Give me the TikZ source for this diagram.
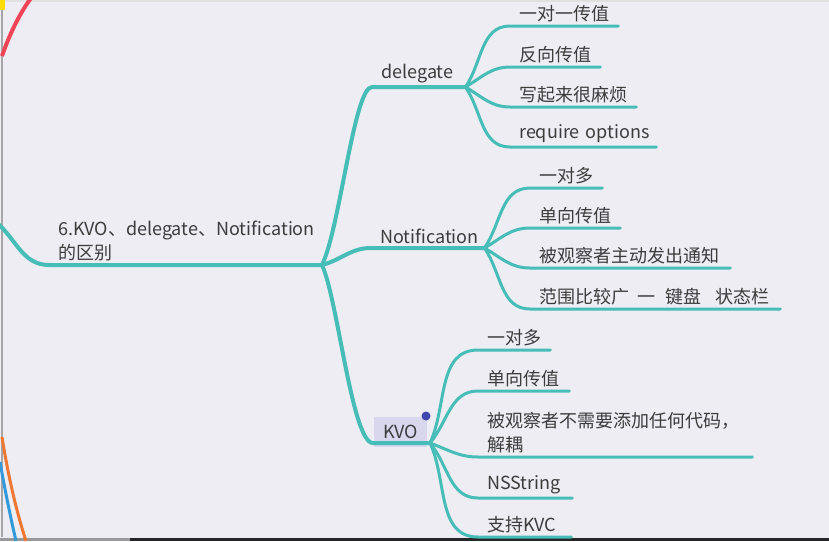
\documentclass[tikz,border=0pt]{standalone}
\usepackage{fontspec}
\setmainfont{Noto Sans CJK SC}
\definecolor{teal1}{HTML}{46BDB7}
\definecolor{bg}{HTML}{EEEDF3}
\definecolor{ink}{HTML}{3C3C3C}
\definecolor{kvobg}{HTML}{D8D7EE}
\definecolor{dotblue}{HTML}{4048B0}
\definecolor{redb}{HTML}{EE4455}
\definecolor{orangeb}{HTML}{EE7733}
\definecolor{blueb}{HTML}{3399DD}
\begin{document}
\begin{tikzpicture}[x=1pt,y=-1pt,
  br/.style={line width=4pt, draw=teal1, line cap=round},
  lf/.style={line width=3pt, draw=teal1, line cap=round},
  txt/.style={font=\fontsize{18}{24}\selectfont, text=ink, inner ysep=4pt, inner xsep=9pt, anchor=south west, align=left},
]
\useasboundingbox (0,0) rectangle (829,541);
\fill[bg] (0,0) rectangle (829,541);
% window frame
\fill[black!85] (130,538) rectangle (829,541);
\fill[black!40] (0,538) rectangle (130,541);
\draw[black!35, line width=2pt] (1.5,0) -- (1.5,537);
\draw[black!12, line width=1.5pt] (0,1) -- (829,1);
% partial other branches
\draw[redb, line width=4pt] (2,56) .. controls (9,36) and (18,16) .. (31,-2);
\fill[yellow!80!orange] (0,0) rectangle (5,10);
\draw[blueb, line width=3pt] (0,462) .. controls (5,490) and (10,515) .. (16,541);
\draw[orangeb, line width=3pt] (2,437) .. controls (8,475) and (16,510) .. (26,541);

% root
\node[txt, text width=255] (root) at (49,265) {6.KVO、delegate、Notification\\的区别};
\coordinate (rs) at (-4,222);
\coordinate (rj) at (322,265);
\draw[br] (rs) to[out=-40,in=180] (root.south west) -- (rj);

% delegate
\node[txt, text width=75] (del) at (372,87) {delegate};
\draw[br] (rj) .. controls (340,228) and (354,87) .. (del.south west) -- (del.south east);
\node[txt, text width=90] (d1) at (510,26) {一对一传值};
\node[txt, text width=72] (d2) at (510,67) {反向传值};
\node[txt, text width=108] (d3) at (510,107) {写起来很麻烦};
\node[txt, text width=128] (d4) at (510,147) {\mbox{require options}};
\draw[lf] (del.south east) to[out=55,in=180] (d1.south west) -- (d1.south east);
\draw[lf] (del.south east) to[out=30,in=180] (d2.south west) -- (d2.south east);
\draw[lf] (del.south east) to[out=-30,in=180] (d3.south west) -- (d3.south east);
\draw[lf] (del.south east) to[out=-55,in=180] (d4.south west) -- (d4.south east);

% notification
\node[txt, text width=95] (noti) at (371,248) {Notification};
\draw[br] (rj) to[out=15,in=180] (noti.south west) -- (noti.south east);
\node[txt, text width=54] (n1) at (530,188) {一对多};
\node[txt, text width=72] (n2) at (530,228) {单向传值};
\node[txt, text width=182] (n3) at (530,268) {被观察者主动发出通知};
\node[txt, text width=232] (n4) at (530,309) {\mbox{范围比较广\hspace{8pt}一\hspace{10pt}键盘\hspace{14pt}状态栏}};
\draw[lf] (noti.south east) to[out=55,in=180] (n1.south west) -- (n1.south east);
\draw[lf] (noti.south east) to[out=30,in=180] (n2.south west) -- (n2.south east);
\draw[lf] (noti.south east) to[out=-30,in=180] (n3.south west) -- (n3.south east);
\draw[lf] (noti.south east) to[out=-55,in=180] (n4.south west) -- (n4.south east);

% KVO
\node[font=\fontsize{18}{24}\selectfont, text=ink, fill=kvobg, anchor=south west, inner xsep=6pt, inner ysep=0pt, minimum height=30pt, minimum width=53pt] (kvo) at (374,447) {KVO};
\fill[dotblue] (426,416) circle (4.5);
\coordinate (kl) at (373,443);
\coordinate (kr) at (430,443);
\draw[br] (rj) .. controls (338,300) and (352,443) .. (kl) -- (kr);
\node[txt, text width=54] (k1) at (478,350) {一对多};
\node[txt, text width=73] (k2) at (478,391) {单向传值};
\node[txt, text width=256] (k3) at (478,457) {被观察者不需要添加任何代码，\\解耦};
\node[txt, text width=76] (k4) at (478,498) {NSString};
\node[txt, text width=75] (k5) at (478,537) {支持KVC};
\draw[lf] (kr) to[out=65,in=180] (k1.south west) -- (k1.south east);
\draw[lf] (kr) to[out=50,in=180] (k2.south west) -- (k2.south east);
\draw[lf] (kr) to[out=-20,in=180] (k3.south west) -- (k3.south east);
\draw[lf] (kr) to[out=-50,in=180] (k4.south west) -- (k4.south east);
\draw[lf] (kr) to[out=-65,in=180] (k5.south west) -- (k5.south east);
\end{tikzpicture}
\end{document}
